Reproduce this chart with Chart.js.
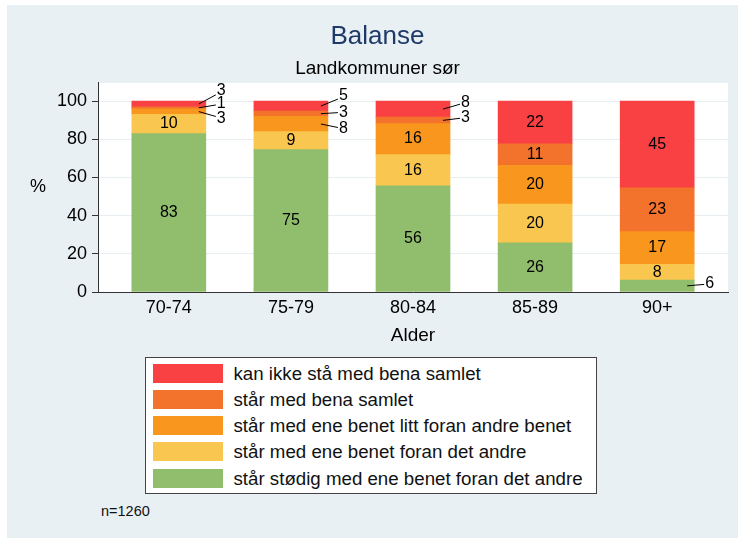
<!DOCTYPE html>
<html lang="no">
<head>
    <meta charset="UTF-8">
    <meta name="viewport" content="width=device-width, initial-scale=1.0">
    <title>Balanse</title>
    <script src="https://cdn.jsdelivr.net/npm/chart.js"></script>
    <style>
        body { margin: 0; background: #fff; font-family: "Liberation Sans", Arial, sans-serif; }
        #frame { position: absolute; left: 7px; top: 5px; width: 731px; height: 533px; background: #e8f0f3; }
        #chart-box { position: absolute; left: 0; top: 0; width: 731px; height: 350px; }
        #legend { position: absolute; left: 138px; top: 352px; width: 452px; height: 137px; box-sizing: border-box;
                  background: #fff; border: 1.5px solid #444; }
        .row { position: absolute; left: 6.5px; height: 19px; }
        .swatch { position: absolute; left: 0; top: 0; width: 70px; height: 19px; }
        .label { position: absolute; left: 81px; top: 0; font-size: 18.7px; line-height: 19px; white-space: nowrap; color: #111; }
        #note { position: absolute; left: 94px; top: 498px; font-size: 14.5px; color: #111; }
    </style>
</head>
<body>
    <div id="frame">
        <div id="chart-box"><canvas id="balanse"></canvas></div>
        <div id="legend"></div>
        <div id="note">n=1260</div>
    </div>

    <script>
        // Aldersgrupper og andeler (%) per kategori, nederst til øverst i stabelen
        const categories = ['70-74', '75-79', '80-84', '85-89', '90+'];
        const seriesLabels = [
            'står stødig med ene benet foran det andre',
            'står med ene benet foran det andre',
            'står med ene benet litt foran andre benet',
            'står med bena samlet',
            'kan ikke stå med bena samlet'
        ];
        const seriesColors = ['#90be6d', '#f9c74f', '#f8961e', '#f3722c', '#f94144'];
        const stodig    = [83, 74.6, 55.6, 25.7, 6.2];
        const foran     = [10, 9.4, 16.4, 20.3, 8.3];
        const littForan = [3, 8.0, 16.2, 20.4, 17.1];
        const samlet    = [1, 2.8, 3.4, 11.2, 23.0];
        const kanIkke   = [3, 5.2, 8.4, 22.4, 45.4];
        const yTicks = [0, 20, 40, 60, 80, 100];

        const seriesValues = [stodig, foran, littForan, samlet, kanIkke];

        // Etiketter som står utenfor søylen: [kategori, serie, flytt i px]
        const outsideLabels = [
            [0, 4, -13], [0, 3, -4], [0, 2, 7],
            [1, 4, -10], [1, 3, -1.5], [1, 2, 5],
            [2, 4, -7], [2, 3, -3],
            [4, 0, -2]
        ];

        Chart.defaults.font.family = '"Liberation Sans", Arial, sans-serif';

        // Hvit bakgrunn i plottområdet + "%"-tittel
        const plotBg = {
            id: 'plotBg',
            beforeDraw(chart) {
                const { ctx, chartArea: a } = chart;
                ctx.save();
                ctx.fillStyle = '#fff';
                ctx.fillRect(a.left, a.top + 1, a.right - a.left, a.bottom - a.top - 1);
                ctx.restore();
            },
            afterDraw(chart) {
                const ctx = chart.ctx;
                ctx.save();
                ctx.font = '18px "Liberation Sans", Arial, sans-serif';
                ctx.fillStyle = '#000';
                ctx.textAlign = 'center';
                ctx.textBaseline = 'middle';
                ctx.fillText('%', 31, 182);
                ctx.restore();
            }
        };

        // Tall i hvert segment
        const segmentLabels = {
            id: 'segmentLabels',
            afterDatasetsDraw(chart) {
                const ctx = chart.ctx;
                ctx.save();
                ctx.font = '16px "Liberation Sans", Arial, sans-serif';
                ctx.fillStyle = '#000';
                ctx.strokeStyle = '#000';
                ctx.lineWidth = 1;
                ctx.textBaseline = 'middle';
                chart.data.datasets.forEach((ds, di) => {
                    chart.getDatasetMeta(di).data.forEach((bar, i) => {
                        const text = String(Math.round(ds.data[i].y));
                        const segY = (bar.y + bar.base) / 2;
                        const out = outsideLabels.find(o => o[0] === i && o[1] === di);
                        if (out) {
                            const right = bar.x + bar.width / 2;
                            const labelY = segY + out[2];
                            ctx.beginPath();
                            ctx.moveTo(right - 7, segY);
                            ctx.lineTo(right + 10, labelY + 0.3 * (segY - labelY));
                            ctx.stroke();
                            ctx.textAlign = 'left';
                            ctx.fillText(text, right + 11, labelY);
                        } else {
                            ctx.textAlign = 'center';
                            ctx.fillText(text, bar.x, segY);
                        }
                    });
                });
                ctx.restore();
            }
        };

        const datasets = seriesLabels.map((label, s) => ({
            label: label,
            data: seriesValues[s].map((v, i) => ({ x: i, y: v })),
            backgroundColor: seriesColors[s],
            borderWidth: 0,
            barThickness: 74
        }));

        new Chart(document.getElementById('balanse').getContext('2d'), {
            type: 'bar',
            data: { datasets: datasets },
            options: {
                responsive: true,
                maintainAspectRatio: false,
                animation: false,
                layout: { padding: { left: 20, right: 10, top: 0, bottom: 0 } },
                plugins: {
                    legend: { display: false },
                    tooltip: { enabled: false },
                    title: {
                        display: true, text: 'Balanse', color: '#1f3a68',
                        font: { size: 26, weight: 'normal' }, padding: { top: 16, bottom: 4 }
                    },
                    subtitle: {
                        display: true, text: 'Landkommuner sør', color: '#000',
                        font: { size: 19, weight: 'normal' }, padding: { top: 1, bottom: 2 }
                    }
                },
                scales: {
                    x: {
                        type: 'linear',
                        stacked: true,
                        offset: false,
                        min: -0.58,
                        max: 4.58,
                        afterBuildTicks: s => { s.ticks = categories.map((c, i) => ({ value: i })); },
                        afterFit: s => { s.height = 63; },
                        grid: { display: false, drawTicks: false, offset: false },
                        border: { display: true, color: '#333', z: 1 },
                        ticks: {
                            font: { size: 18 }, color: '#000', padding: 5,
                            maxRotation: 0, autoSkip: false,
                            callback: v => categories[v]
                        },
                        title: {
                            display: true, text: 'Alder', color: '#000',
                            font: { size: 19 }, padding: { top: 4, bottom: 8 }
                        }
                    },
                    y: {
                        stacked: true,
                        min: 0,
                        max: 110,
                        afterBuildTicks: s => { s.ticks = yTicks.map(v => ({ value: v })); },
                        afterFit: s => { s.width = 71; },
                        grid: { color: '#e6eef1', lineWidth: 1, tickLength: 6, tickColor: '#333', z: -1 },
                        border: { display: true, color: '#333', z: 1 },
                        ticks: { font: { size: 18 }, color: '#000', padding: 5 }
                    }
                }
            },
            plugins: [plotBg, segmentLabels]
        });

        // Legende i egen boks, øverste kategori først
        const legend = document.getElementById('legend');
        seriesLabels.slice().reverse().forEach((label, r) => {
            const s = seriesLabels.length - 1 - r;
            const row = document.createElement('div');
            row.className = 'row';
            row.style.top = (5.5 + r * 26.25) + 'px';
            row.innerHTML = '<div class="swatch" style="background:' + seriesColors[s] + '"></div>' +
                            '<div class="label">' + label + '</div>';
            legend.appendChild(row);
        });
    </script>
</body>
</html>
